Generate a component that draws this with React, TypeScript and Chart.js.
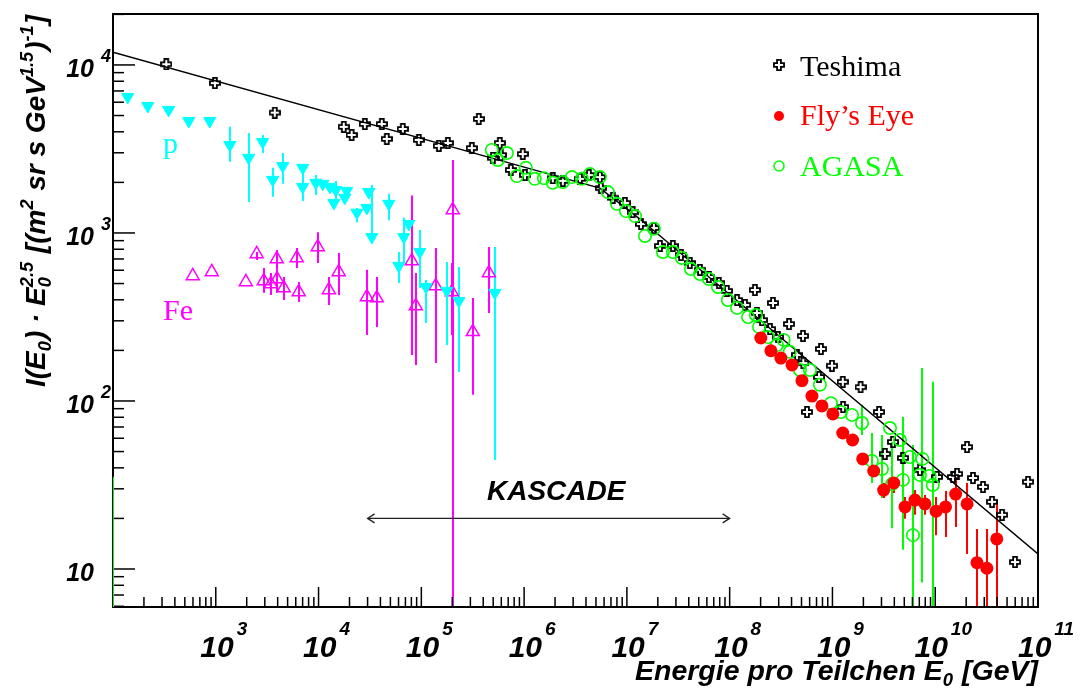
import React, { useEffect, useRef } from "react";
import { Chart, registerables } from "chart.js";
Chart.register(...registerables);

// ---------------- data (energy in GeV, I(E)*E^2.5) ----------------
const teshimaE = [3.3e2, 9.8e2, 3.75e3, 1.76e4, 2.1e4, 2.82e4, 4.12e4, 4.61e4, 6.6e4, 9.45e4, 1.48e5, 1.81e5, 3.1e5, 3.62e5, 4.97e5, 5.8e5, 5.94e5, 7.43e5, 9.7e5, 1.02e6, 1.9e6, 2.38e6, 3.49e6, 4.27e6, 5.46e6, 5.58e6, 7.3e6, 9.57e6, 1.14e7, 1.37e7, 1.83e7, 2.1e7, 2.8e7, 3.36e7, 4.1e7, 5.14e7, 6.28e7, 7.85e7, 9.4e7, 1.18e8, 1.41e8, 1.76e8, 1.84e8, 2.06e8, 2.47e8, 2.64e8, 2.95e8, 3.78e8, 4.52e8, 5.17e8, 5.2e8, 5.65e8, 7.4e8, 7.73e8, 9.89e8, 1.26e9, 1.27e9, 1.88e9, 2.84e9, 3.24e9, 3.88e9, 4.85e9, 7.1e9, 1.04e10, 1.49e10, 1.63e10, 2.04e10, 2.33e10, 2.92e10, 3.57e10, 4.47e10, 5.98e10, 8.0e10];
const teshimaI = [1.01e4, 7.8e3, 5.2e3, 4.28e3, 3.83e3, 4.45e3, 4.45e3, 3.63e3, 4.16e3, 3.58e3, 3.3e3, 3.43e3, 3.2e3, 4.77e3, 2.8e3, 3.43e3, 2.91e3, 2.37e3, 2.95e3, 2.21e3, 2.12e3, 2.04e3, 2.1e3, 2.21e3, 2.15e3, 1.85e3, 1.62e3, 1.51e3, 1.33e3, 1.13e3, 1.07e3, 837, 837, 740, 663, 603, 547, 504, 452, 399, 373, 458, 334, 303, 268, 383, 240, 287, 188, 244, 168, 86, 139, 204, 162, 130, 92, 121, 86, 48.4, 57, 45.8, 38.8, 35.3, 35.3, 36.8, 53.2, 34.8, 30.8, 25.1, 21, 11, 33];

const agasaE = [4.85e5, 5.55e5, 6.8e5, 8.5e5, 1.04e6, 1.27e6, 1.56e6, 1.9e6, 2.38e6, 2.92e6, 3.65e6, 4.37e6, 5.46e6, 6.53e6, 8.0e6, 9.8e6, 1.2e7, 1.5e7, 1.83e7, 2.24e7, 2.8e7, 3.43e7, 4.2e7, 5.14e7, 6.28e7, 7.7e7, 9.6e7, 1.18e8, 1.51e8, 1.8e8, 1.93e8, 2.36e8, 2.88e8, 3.35e8, 3.84e8, 4.83e8, 6.04e8, 7.55e8, 9.66e8, 1.21e9, 1.55e9, 1.94e9, 2.42e9, 3.03e9, 3.63e9, 3.8e9, 4.54e9, 4.85e9, 5.68e9, 6.07e9, 7.1e9, 7.5e9, 8.83e9, 9.46e9];
const agasaI = [3.12e3, 2.72e3, 2.99e3, 2.18e3, 2.44e3, 2.1e3, 2.12e3, 1.99e3, 2.01e3, 2.15e3, 2.1e3, 2.24e3, 2.15e3, 1.75e3, 1.49e3, 1.35e3, 1.26e3, 960, 1.06e3, 770, 770, 710, 610, 570, 532, 477, 399, 358, 316, 325, 276, 240, 215, 231, 196, 153, 153, 125, 97, 86, 82.6, 74, 44, 39.4, 69, 32, 58.6, 33.9, 46.4, 15.9, 36.3, 45.2, 35.8, 31.6];
const agasaErrLo = [null, null, null, null, null, null, null, null, null, null, null, null, null, null, null, null, null, null, null, null, null, null, null, null, null, null, null, null, null, null, null, null, null, null, null, null, null, null, null, null, null, 62.8, 32.5, 26.5, null, 17.5, null, 13, null, 1, null, 8.3, null, 1];
const agasaErrHi = [null, null, null, null, null, null, null, null, null, null, null, null, null, null, null, null, null, null, null, null, null, null, null, null, null, null, null, null, null, null, null, null, null, null, null, null, null, null, null, null, null, 94.6, 64.5, 62.8, null, 57, null, 80.3, null, 54.7, null, 157, null, 130];

const flyE = [2.01e8, 2.52e8, 3.15e8, 4.04e8, 5.05e8, 6.32e8, 7.9e8, 1.01e9, 1.26e9, 1.57e9, 1.97e9, 2.52e9, 3.15e9, 3.95e9, 5.08e9, 6.35e9, 7.94e9, 1.02e10, 1.26e10, 1.58e10, 2.04e10, 2.55e10, 3.18e10, 3.97e10];
const flyI = [237, 199, 180, 164, 132, 107, 93.4, 83.7, 64.5, 58.6, 45.2, 38.3, 29.5, 32.5, 23.4, 25.7, 24.4, 22.1, 23.4, 27.9, 24.4, 10.9, 10.1, 15.1];
const flyErrLo = [null, null, null, null, null, null, null, null, null, null, null, null, 26.5, 28.3, 19.9, 21, 21, 15.9, 15.5, 17.8, 12.3, 1, 1, 1];
const flyErrHi = [null, null, null, null, null, null, null, null, null, null, null, null, 32.5, 35.3, 26.8, 29.5, 27.6, 26.8, 29.1, 35.3, 32.5, 17.3, 17.3, 25.7];

const protonE = [1.39e2, 2.18e2, 3.48e2, 5.46e2, 8.73e2, 1.37e3, 2.09e3, 2.86e3, 3.58e3, 4.48e3, 7.02e3, 7.0e3, 9.4e3, 1.1e4, 1.29e4, 1.47e4, 1.41e4, 1.8e4, 1.88e4, 2.36e4, 2.95e4, 3.08e4, 3.3e4, 4.83e4, 6.04e4, 6.75e4, 7.55e4, 9.66e4, 1.11e5, 1.77e5, 2.32e5, 5.19e5];
const protonI = [6.45e3, 5.7e3, 5.4e3, 4.64e3, 4.64e3, 3.34e3, 2.8e3, 3.48e3, 2.07e3, 2.5e3, 2.44e3, 1.88e3, 1.99e3, 1.96e3, 1.88e3, 1.8e3, 1.51e3, 1.62e3, 1.78e3, 1.32e3, 1.41e3, 1.75e3, 946, 1.49e3, 637, 946, 1.13e3, 770, 477, 452, 394, 440];
const protonErrLo = [null, null, null, null, null, 2.65e3, 1.53e3, 2.99e3, 1.64e3, 1.96e3, null, 1.55e3, 1.68e3, null, null, 1.59e3, null, null, null, 1.16e3, null, null, 884, 1.19e3, 504, 663, null, 471, 291, 215, 149, 44.5];
const protonErrHi = [null, null, null, null, null, 4.28e3, 3.94e3, 3.83e3, 2.44e3, 2.99e3, null, 2.54e3, 2.21e3, null, null, 2.04e3, null, null, null, 1.41e3, null, null, 1.93e3, 1.71e3, 770, 1.23e3, null, 1.04e3, 525, 672, 628, 826];

const ironE = [5.97e2, 9.14e2, 1.96e3, 2.5e3, 2.93e3, 3.43e3, 3.92e3, 3.95e3, 4.58e3, 6.14e3, 6.41e3, 9.82e3, 1.26e4, 1.57e4, 2.95e4, 3.69e4, 8.07e4, 8.84e4, 1.38e5, 1.98e5, 2.02e5, 3.17e5, 4.54e5];
const ironI = [555, 586, 511, 750, 518, 497, 700, 532, 471, 710, 446, 826, 458, 586, 416, 410, 681, 368, 484, 446, 1370, 258, 578];
const ironErrLo = [null, null, null, 690, 440, 427, 603, 440, 399, 619, 388, 663, 373, 427, 247, 276, 188, 164, 168, 247, 1, 109, 334];
const ironErrHi = [null, null, null, 770, 619, 578, 792, 603, 547, 815, 511, 1010, 547, 760, 603, 547, 1670, 578, 815, 663, 2720, 410, 826];

const fitE = [1e2, 2.23e6, 5.46e6, 1.34e7, 1e11];
const fitI = [1.19e4, 2.15e3, 1.85e3, 1.21e3, 12.3];

const edgeE = [1e2, 1e2];
const edgeI = [35.4, 5.94];

const kascadeRange = [3e4, 1e8];
const kascadeLevel = 20;

const X_MIN = 1e2, X_MAX = 1e11, Y_MIN = 5.94, Y_MAX = 2.01e4;
const xTickValues = [1e3, 1e4, 1e5, 1e6, 1e7, 1e8, 1e9, 1e10, 1e11];
const xTickExps = ["3", "4", "5", "6", "7", "8", "9", "10", "11"];
const yTickValues = [10, 100, 1000, 10000];
const yTickExps = ["", "2", "3", "4"];

const legendLabels = ["Teshima", "Fly\u2019s Eye", "AGASA"];

const C_BLACK = "#000000", C_RED = "#ff0000", C_GREEN = "#00ff00", C_CYAN = "#00ffff", C_MAG = "#ff00ff";
const SANS = '"Liberation Sans", Arial, Helvetica, sans-serif';
const SERIF = '"Liberation Serif", "Times New Roman", serif';
const bi = (s: number) => `italic bold ${s}px ${SANS}`;

type Seg = { t: string; k: "n" | "sub" | "sup" | "subsup"; t2?: string };

const yTitle: Seg[] = [
  { t: "I(E", k: "n" }, { t: "0", k: "sub" }, { t: ") \u00b7 E", k: "n" }, { t: "0", k: "subsup", t2: "2.5" },
  { t: " [(m", k: "n" }, { t: "2", k: "sup" }, { t: " sr s GeV", k: "n" }, { t: "1.5", k: "sup" },
  { t: ")", k: "n" }, { t: "-1", k: "sup" }, { t: "]", k: "n" },
];
const xTitle: Seg[] = [
  { t: "Energie pro Teilchen E", k: "n" }, { t: "0", k: "sub" }, { t: " [GeV]", k: "n" },
];

function richWidth(ctx: CanvasRenderingContext2D, segs: Seg[], size: number) {
  let w = 0;
  for (const s of segs) {
    if (s.k === "n") { ctx.font = bi(size); w += ctx.measureText(s.t).width; }
    else {
      ctx.font = bi(size * 0.65);
      const a = ctx.measureText(s.t).width;
      const b = s.t2 ? ctx.measureText(s.t2).width : 0;
      w += Math.max(a, b) + 1;
    }
  }
  return w;
}
function drawRich(ctx: CanvasRenderingContext2D, segs: Seg[], size: number, x0: number, y0: number) {
  let x = x0;
  ctx.textAlign = "left";
  ctx.textBaseline = "alphabetic";
  for (const s of segs) {
    if (s.k === "n") {
      ctx.font = bi(size); ctx.fillText(s.t, x, y0); x += ctx.measureText(s.t).width;
    } else {
      ctx.font = bi(size * 0.65);
      let w = 0;
      if (s.k === "sub" || s.k === "subsup") { ctx.fillText(s.t, x, y0 + size * 0.22); w = ctx.measureText(s.t).width; }
      if (s.k === "sup") { ctx.fillText(s.t, x, y0 - size * 0.42); w = ctx.measureText(s.t).width; }
      if (s.k === "subsup" && s.t2) { ctx.fillText(s.t2, x, y0 - size * 0.42); w = Math.max(w, ctx.measureText(s.t2).width); }
      x += w + 1;
    }
  }
}

function makeCross(color: string, size: number) {
  const c = document.createElement("canvas");
  c.width = size; c.height = size;
  const g = c.getContext("2d")!;
  const m = size / 2, h = size * 0.16, L = size * 0.42;
  g.translate(m, m);
  g.beginPath();
  const p = [[-h, -L], [h, -L], [h, -h], [L, -h], [L, h], [h, h], [h, L], [-h, L], [-h, h], [-L, h], [-L, -h], [-h, -h]];
  p.forEach(([a, b], i) => (i ? g.lineTo(a, b) : g.moveTo(a, b)));
  g.closePath();
  g.strokeStyle = color; g.lineWidth = 1.8;
  g.stroke();
  return c;
}

const pts = (E: number[], I: number[]) => E.map((e, i) => ({ x: e, y: I[i] }));

export default function App() {
  const ref = useRef<HTMLCanvasElement>(null);
  useEffect(() => {
    const canvas = ref.current!;
    const cross = makeCross(C_BLACK, 12);

    const deco = {
      id: "rootDeco",
      beforeDatasetsDraw(chart: any) {
        const { ctx, chartArea: a, scales: { x, y } } = chart;
        // error bars
        ctx.save();
        ctx.beginPath(); ctx.rect(a.left, a.top, a.right - a.left, a.bottom - a.top); ctx.clip();
        chart.data.datasets.forEach((ds: any) => {
          if (!ds.errLo) return;
          ctx.strokeStyle = ds.errColor; ctx.lineWidth = 2;
          ds.data.forEach((p: any, i: number) => {
            const lo = ds.errLo[i], hi = ds.errHi[i];
            if (lo == null || hi == null) return;
            const px = Math.round(x.getPixelForValue(p.x));
            ctx.beginPath();
            ctx.moveTo(px, y.getPixelForValue(lo));
            ctx.lineTo(px, y.getPixelForValue(hi));
            ctx.stroke();
          });
        });
        ctx.restore();
        // ticks
        ctx.save();
        ctx.strokeStyle = "#000"; ctx.lineWidth = 1.5;
        for (let d = 2; d <= 11; d++) {
          for (let k = 1; k <= 9; k++) {
            const v = k * Math.pow(10, d);
            if (v < X_MIN * 0.999 || v > X_MAX * 1.001) continue;
            const px = x.getPixelForValue(v);
            const len = k === 1 ? 20 : 10;
            ctx.beginPath(); ctx.moveTo(px, a.bottom); ctx.lineTo(px, a.bottom - len); ctx.stroke();
          }
        }
        for (let d = 0; d <= 4; d++) {
          for (let k = 1; k <= 9; k++) {
            const v = k * Math.pow(10, d);
            if (v < Y_MIN || v > Y_MAX) continue;
            const py = y.getPixelForValue(v);
            const len = k === 1 ? 22 : 11;
            ctx.beginPath(); ctx.moveTo(a.left, py); ctx.lineTo(a.left + len, py); ctx.stroke();
          }
        }
        // frame
        ctx.lineWidth = 2;
        ctx.strokeRect(a.left, a.top, a.right - a.left, a.bottom - a.top);
        ctx.restore();
      },
      afterDraw(chart: any) {
        const { ctx, scales: { x, y } } = chart;
        ctx.save();
        ctx.fillStyle = "#000";
        // x tick labels
        xTickValues.forEach((v, i) => {
          const px = x.getPixelForValue(v);
          ctx.font = bi(30); const w10 = ctx.measureText("10").width;
          ctx.font = bi(19); const we = ctx.measureText(xTickExps[i]).width;
          const left = px + 8 - (w10 + 3 + we) / 2;
          ctx.textAlign = "left"; ctx.textBaseline = "alphabetic";
          ctx.font = bi(30); ctx.fillText("10", left, 657);
          ctx.font = bi(19); ctx.fillText(xTickExps[i], left + w10 + 3, 635);
        });
        // y tick labels
        yTickValues.forEach((v, i) => {
          const py = y.getPixelForValue(v);
          ctx.textAlign = "right"; ctx.textBaseline = "alphabetic";
          ctx.font = bi(25); ctx.fillText("10", 94, py + 12);
          if (yTickExps[i]) { ctx.textAlign = "left"; ctx.font = bi(18); ctx.fillText(yTickExps[i], 101, py - 3); }
        });
        // axis titles
        const wx = richWidth(ctx, xTitle, 28.5);
        drawRich(ctx, xTitle, 28.5, 1038 - wx, 680);
        const wy = richWidth(ctx, yTitle, 28);
        ctx.save();
        ctx.translate(45, 15 + wy);
        ctx.rotate(-Math.PI / 2);
        drawRich(ctx, yTitle, 28, 0, 0);
        ctx.restore();
        // KASCADE arrow
        const ax1 = x.getPixelForValue(kascadeRange[0]);
        const ax2 = x.getPixelForValue(kascadeRange[1]);
        const ay = y.getPixelForValue(kascadeLevel);
        ctx.strokeStyle = "#222"; ctx.lineWidth = 1.3;
        ctx.beginPath(); ctx.moveTo(ax1, ay); ctx.lineTo(ax2, ay); ctx.stroke();
        ctx.beginPath(); ctx.moveTo(ax1 + 7, ay - 4.5); ctx.lineTo(ax1, ay); ctx.lineTo(ax1 + 7, ay + 4.5); ctx.stroke();
        ctx.beginPath(); ctx.moveTo(ax2 - 7, ay - 4.5); ctx.lineTo(ax2, ay); ctx.lineTo(ax2 - 7, ay + 4.5); ctx.stroke();
        ctx.fillStyle = "#000"; ctx.font = bi(28); ctx.textAlign = "left";
        ctx.fillText("KASCADE", 487, 500);
        // p / Fe labels
        ctx.font = `30px ${SERIF}`;
        ctx.fillStyle = C_CYAN; ctx.fillText("p", 163, 153);
        ctx.fillStyle = C_MAG; ctx.fillText("Fe", 163, 320);
        // legend
        ctx.drawImage(cross, 779 - 6, 65 - 6);
        ctx.fillStyle = C_RED; ctx.beginPath(); ctx.arc(779, 116, 5, 0, Math.PI * 2); ctx.fill();
        ctx.strokeStyle = C_GREEN; ctx.lineWidth = 1.5; ctx.beginPath(); ctx.arc(779, 166, 5, 0, Math.PI * 2); ctx.stroke();
        ctx.font = `30px ${SERIF}`;
        ctx.fillStyle = C_BLACK; ctx.fillText(legendLabels[0], 800, 76);
        ctx.fillStyle = C_RED; ctx.fillText(legendLabels[1], 800, 125);
        ctx.fillStyle = C_GREEN; ctx.fillText(legendLabels[2], 800, 176);
        ctx.restore();
      },
    };

    const chart = new Chart(canvas, {
      type: "scatter",
      data: {
        datasets: [
          { label: "Fly's Eye", data: pts(flyE, flyI), pointStyle: "circle", pointRadius: 6.5, pointBackgroundColor: C_RED, pointBorderColor: C_RED, pointBorderWidth: 0, errLo: flyErrLo, errHi: flyErrHi, errColor: C_RED } as any,
          { label: "AGASA", data: pts(agasaE, agasaI), pointStyle: "circle", pointRadius: 6.2, pointBackgroundColor: "rgba(0,0,0,0)", pointBorderColor: C_GREEN, pointBorderWidth: 1.6, errLo: agasaErrLo, errHi: agasaErrHi, errColor: C_GREEN } as any,
          { label: "Teshima", data: pts(teshimaE, teshimaI), pointStyle: cross, pointRadius: 6 } as any,
          { label: "p", data: pts(protonE, protonI), pointStyle: "triangle", rotation: 180, pointRadius: 7, pointBackgroundColor: C_CYAN, pointBorderColor: C_CYAN, pointBorderWidth: 1, errLo: protonErrLo, errHi: protonErrHi, errColor: C_CYAN } as any,
          { label: "Fe", data: pts(ironE, ironI), pointStyle: "triangle", pointRadius: 7.5, pointBackgroundColor: "rgba(0,0,0,0)", pointBorderColor: C_MAG, pointBorderWidth: 1.5, errLo: ironErrLo, errHi: ironErrHi, errColor: C_MAG } as any,
          { label: "edge", data: pts(edgeE, edgeI), showLine: true, borderColor: C_GREEN, borderWidth: 2, pointRadius: 0 } as any,
          { label: "fit", data: pts(fitE, fitI), showLine: true, borderColor: "#000", borderWidth: 1.5, pointRadius: 0, tension: 0 } as any,
        ],
      },
      options: {
        responsive: true,
        maintainAspectRatio: false,
        animation: false,
        devicePixelRatio: 1,
        events: [],
        layout: { padding: { left: 113, right: 44, top: 14, bottom: 84 } },
        plugins: { legend: { display: false }, tooltip: { enabled: false }, title: { display: false } },
        scales: {
          x: { type: "logarithmic", min: X_MIN, max: X_MAX, display: false },
          y: { type: "logarithmic", min: Y_MIN, max: Y_MAX, display: false },
        },
      },
      plugins: [deco],
    } as any);
    return () => chart.destroy();
  }, []);
  return (
    <div style={{ position: "absolute", left: 0, top: 0, width: 1082, height: 691, background: "#fff" }}>
      <canvas ref={ref} />
    </div>
  );
}
